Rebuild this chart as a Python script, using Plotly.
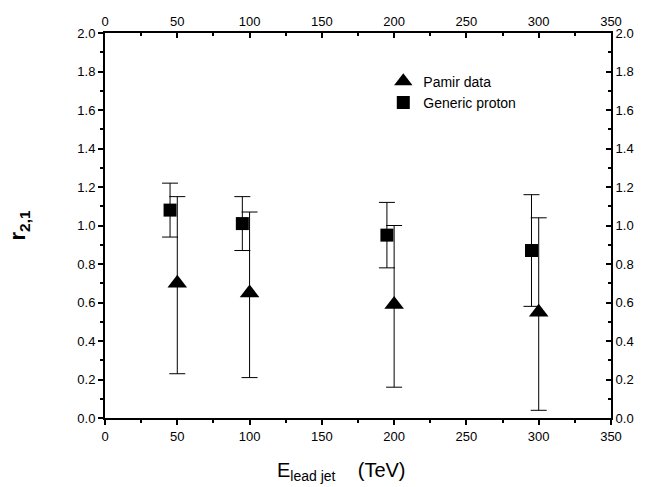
import plotly.graph_objects as go

# Pamir data
pamir_x = [50, 100, 200, 300]
pamir_y = [0.70, 0.65, 0.59, 0.55]
pamir_hi = [1.15, 1.07, 1.00, 1.04]
pamir_lo = [0.23, 0.21, 0.16, 0.04]

# Generic proton
gen_x = [45, 95, 195, 295]
gen_y = [1.08, 1.01, 0.95, 0.87]
gen_hi = [1.22, 1.15, 1.12, 1.16]
gen_lo = [0.94, 0.87, 0.78, 0.58]

x_ticks = [0, 50, 100, 150, 200, 250, 300, 350]
y_ticks = [0.0, 0.2, 0.4, 0.6, 0.8, 1.0, 1.2, 1.4, 1.6, 1.8, 2.0]

fig = go.Figure()

def err(y, hi, lo):
    return dict(type="data", symmetric=False,
                array=[h - v for h, v in zip(hi, y)],
                arrayminus=[v - l for v, l in zip(y, lo)],
                color="black", thickness=1, width=8)

fig.add_trace(go.Scatter(x=pamir_x, y=pamir_y, mode="markers", name="Pamir data",
                         marker=dict(symbol="triangle-up", size=17, color="black"),
                         error_y=err(pamir_y, pamir_hi, pamir_lo)))
fig.add_trace(go.Scatter(x=gen_x, y=gen_y, mode="markers", name="Generic proton",
                         marker=dict(symbol="square", size=13, color="black"),
                         error_y=err(gen_y, gen_hi, gen_lo)))
# invisible trace to activate top/right axes
fig.add_trace(go.Scatter(x=[0], y=[0], xaxis="x2", yaxis="y2", mode="markers",
                         marker=dict(opacity=0), showlegend=False, hoverinfo="skip"))

FAM = "Liberation Sans, Arial, sans-serif"
font = dict(family=FAM, size=13, color="black")
common = dict(showgrid=False, zeroline=False, showline=True, linecolor="black",
              linewidth=2, ticklen=5, tickwidth=1.5, tickcolor="black",
              tickfont=font)

fig.update_layout(
    width=662, height=487,
    margin=dict(l=105, r=51, t=33, b=69),
    paper_bgcolor="white", plot_bgcolor="white",
    font=font,
    xaxis=dict(range=[0, 350], tickvals=x_ticks, ticks="outside",
               minor=dict(dtick=25, ticks="outside", ticklen=3, tickcolor="black"),
               **common),
    xaxis2=dict(range=[0, 350], tickvals=x_ticks, ticks="inside", overlaying="x",
                side="top", anchor="y",
                minor=dict(dtick=25, ticks="inside", ticklen=3, tickcolor="black"),
                **common),
    yaxis=dict(range=[0, 2.0], tickvals=y_ticks, tickformat=".1f", ticks="outside",
               minor=dict(dtick=0.1, ticks="outside", ticklen=3, tickcolor="black"),
               **common),
    yaxis2=dict(range=[0, 2.0], tickvals=y_ticks, tickformat=".1f", ticks="inside",
                overlaying="y", side="right", anchor="x",
                minor=dict(dtick=0.1, ticks="inside", ticklen=3, tickcolor="black"),
                **common),
    legend=dict(x=0.55, y=0.915, xanchor="left", yanchor="top",
                bgcolor="rgba(0,0,0,0)", font=dict(family=FAM, size=14),
                tracegroupgap=0, itemsizing="trace"),
    showlegend=True,
)

fig.add_annotation(xref="paper", yref="paper", x=-0.17, y=0.5, xanchor="center",
                   yanchor="middle", showarrow=False, textangle=-90,
                   text="<b>r<sub>2,1</sub></b>",
                   font=dict(family=FAM, size=22, color="black"))
fig.add_annotation(xref="paper", yref="paper", x=0.468, y=-0.1, xanchor="center",
                   yanchor="top", showarrow=False,
                   text="E<sub>lead jet</sub>    (TeV)",
                   font=dict(family=FAM, size=20, color="black"))

fig.write_html("out.html")
